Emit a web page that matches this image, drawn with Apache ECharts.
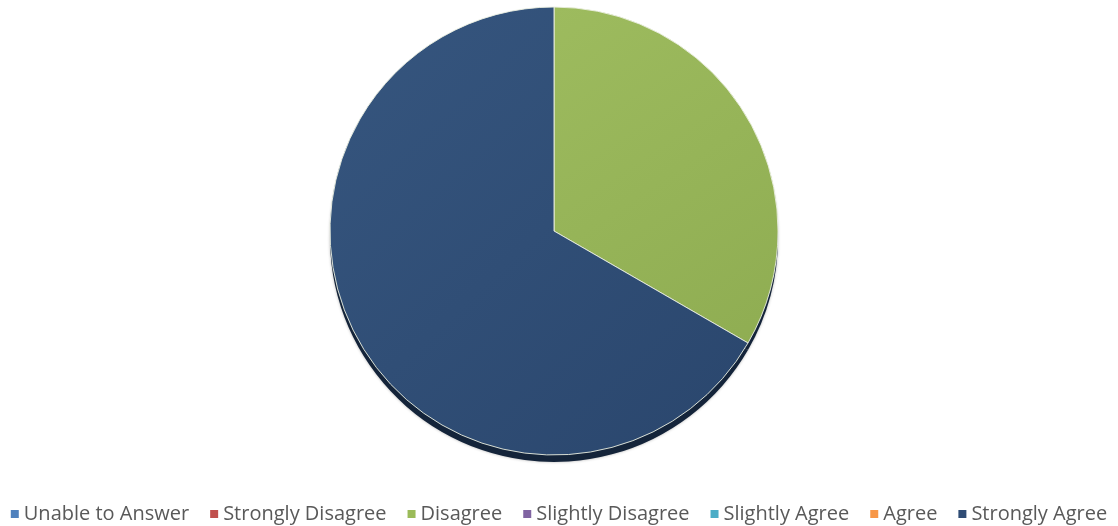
<!DOCTYPE html>
<html>
<head>
<meta charset="UTF-8">
<title>Survey pie</title>
<script type="text/javascript" src="https://cdn.jsdelivr.net/npm/echarts@6/dist/echarts.min.js"></script>
<style>
  *{margin:0;padding:0}
  html,body{width:100%;height:100%;background:#fff}
  #main{width:1118px;height:526px}
</style>
</head>
<body>
<div id="main"></div>
<script type="text/javascript">
  // 数据
  var categories = ['Unable to Answer', 'Strongly Disagree', 'Disagree', 'Slightly Disagree', 'Slightly Agree', 'Agree', 'Strongly Agree'];
  var values = [0, 0, 1, 0, 0, 0, 2];
  var colors = ['#4F81BD', '#C0504D', '#9BBB59', '#8064A2', '#4BACC6', '#F79646', '#2F4C74'];
  // 扇区的浅色/深色（轻微渐变）
  var lightColors = ['#5a8bc6', '#c85c59', '#9dbb5e', '#8a6fab', '#58b6cf', '#f8a05a', '#36567f'];
  var darkColors = ['#4474ad', '#b04643', '#8fad52', '#735894', '#3f9cb5', '#ea8938', '#2a466d'];

  var pieData = categories.map(function (name, i) {
    return {
      name: name,
      value: values[i],
      itemStyle: {
        color: new echarts.graphic.LinearGradient(0, 0, 1, 1, [
          { offset: 0, color: lightColors[i] },
          { offset: 1, color: darkColors[i] }
        ]),
        borderWidth: values[i] > 0 ? 1 : 0
      }
    };
  });

  // 底部的阴影层（同样的数据，下移几个像素）
  var shadowData = categories.map(function (name, i) {
    return { name: name, value: values[i] };
  });

  var option = {
    animation: false,
    legend: {
      top: 499,
      left: 'center',
      icon: 'rect',
      itemWidth: 8,
      itemHeight: 8,
      itemGap: 21,
      textStyle: {
        fontFamily: 'Open Sans',
        fontSize: 20,
        color: '#595959'
      },
      data: categories.map(function (name, i) {
        return { name: name, itemStyle: { color: colors[i] } };
      })
    },
    series: [
      {
        type: 'pie',
        silent: true,
        z: 1,
        center: [554, 238],
        radius: 224,
        startAngle: 90,
        label: { show: false },
        labelLine: { show: false },
        itemStyle: {
          color: '#14243a',
          borderWidth: 0,
          shadowColor: 'rgba(0,0,0,0.3)',
          shadowBlur: 3
        },
        data: shadowData
      },
      {
        type: 'pie',
        z: 2,
        center: [554, 231],
        radius: 224,
        startAngle: 90,
        clockwise: true,
        label: { show: false },
        labelLine: { show: false },
        emphasis: { disabled: true },
        itemStyle: {
          borderColor: 'rgba(235,240,225,0.9)'
        },
        data: pieData
      }
    ]
  };

  var myChart = echarts.init(document.getElementById('main'));
  myChart.setOption(option);
</script>
</body>
</html>
